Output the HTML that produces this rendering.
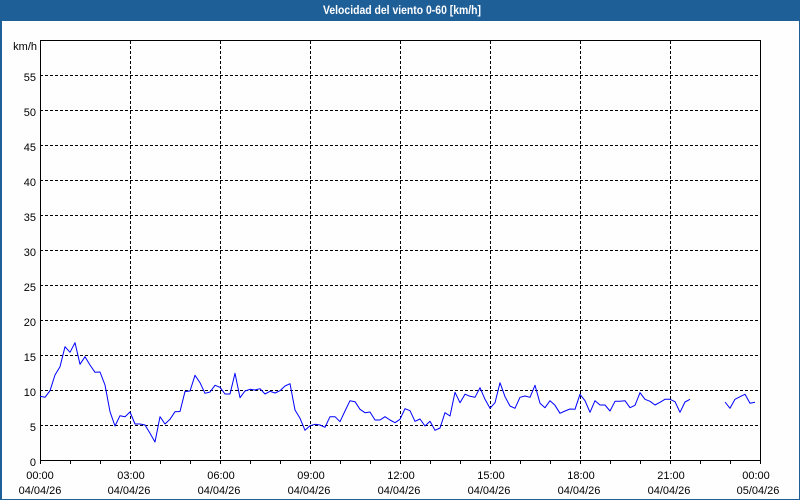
<!DOCTYPE html>
<html>
<head>
<meta charset="utf-8">
<style>
html,body{margin:0;padding:0;background:#fdfefd;}
svg{display:block;}
text{font-family:"Liberation Sans","DejaVu Sans",sans-serif;}
</style>
</head>
<body>
<svg width="800" height="500" viewBox="0 0 800 500" xmlns="http://www.w3.org/2000/svg">
<rect x="0" y="0" width="800" height="500" fill="#fdfefd"/>
<!-- title bar -->
<rect x="0" y="0" width="800" height="21" fill="#1f5f98"/>
<text x="402" y="14" fill="#ffffff" font-size="12" font-weight="bold" text-anchor="middle" textLength="158" lengthAdjust="spacingAndGlyphs">Velocidad del viento 0-60 [km/h]</text>
<!-- frame borders -->
<rect x="0" y="21" width="2" height="479" fill="#1f5f98"/>
<rect x="799" y="21" width="1" height="479" fill="#1f5f98"/>
<rect x="0" y="499" width="800" height="1" fill="#1f5f98"/>

<!-- horizontal grid -->
<g stroke="#000" stroke-width="1" stroke-dasharray="3 2" shape-rendering="crispEdges" fill="none">
<line x1="40" y1="75.5" x2="760" y2="75.5"/>
<line x1="40" y1="110.5" x2="760" y2="110.5"/>
<line x1="40" y1="145.5" x2="760" y2="145.5"/>
<line x1="40" y1="180.5" x2="760" y2="180.5"/>
<line x1="40" y1="215.5" x2="760" y2="215.5"/>
<line x1="40" y1="250.5" x2="760" y2="250.5"/>
<line x1="40" y1="285.5" x2="760" y2="285.5"/>
<line x1="40" y1="320.5" x2="760" y2="320.5"/>
<line x1="40" y1="355.5" x2="760" y2="355.5"/>
<line x1="40" y1="390.5" x2="760" y2="390.5"/>
<line x1="40" y1="425.5" x2="760" y2="425.5"/>
<!-- vertical grid -->
<line x1="130.5" y1="41" x2="130.5" y2="464"/>
<line x1="220.5" y1="41" x2="220.5" y2="464"/>
<line x1="310.5" y1="41" x2="310.5" y2="464"/>
<line x1="400.5" y1="41" x2="400.5" y2="464"/>
<line x1="490.5" y1="41" x2="490.5" y2="464"/>
<line x1="580.5" y1="41" x2="580.5" y2="464"/>
<line x1="670.5" y1="41" x2="670.5" y2="464"/>
</g>

<!-- minor ticks -->
<g stroke="#000" stroke-width="1" shape-rendering="crispEdges">
<line x1="70.5" y1="460" x2="70.5" y2="464"/>
<line x1="100.5" y1="460" x2="100.5" y2="464"/>
<line x1="160.5" y1="460" x2="160.5" y2="464"/>
<line x1="190.5" y1="460" x2="190.5" y2="464"/>
<line x1="250.5" y1="460" x2="250.5" y2="464"/>
<line x1="280.5" y1="460" x2="280.5" y2="464"/>
<line x1="340.5" y1="460" x2="340.5" y2="464"/>
<line x1="370.5" y1="460" x2="370.5" y2="464"/>
<line x1="430.5" y1="460" x2="430.5" y2="464"/>
<line x1="460.5" y1="460" x2="460.5" y2="464"/>
<line x1="520.5" y1="460" x2="520.5" y2="464"/>
<line x1="550.5" y1="460" x2="550.5" y2="464"/>
<line x1="610.5" y1="460" x2="610.5" y2="464"/>
<line x1="640.5" y1="460" x2="640.5" y2="464"/>
<line x1="700.5" y1="460" x2="700.5" y2="464"/>
<line x1="730.5" y1="460" x2="730.5" y2="464"/>
<line x1="760.5" y1="460" x2="760.5" y2="464"/>
<line x1="40.5" y1="460" x2="40.5" y2="464"/>
</g>

<!-- plot frame -->
<rect x="40.5" y="40.5" width="720" height="420" fill="none" stroke="#000" stroke-width="1" shape-rendering="crispEdges"/>

<!-- y labels -->
<g font-size="11" fill="#000" text-anchor="end">
<text x="37" y="50">km/h</text>
<text x="36" y="81">55</text>
<text x="36" y="116">50</text>
<text x="36" y="151">45</text>
<text x="36" y="186">40</text>
<text x="36" y="221">35</text>
<text x="36" y="256">30</text>
<text x="36" y="291">25</text>
<text x="36" y="326">20</text>
<text x="36" y="361">15</text>
<text x="36" y="396">10</text>
<text x="36" y="431">5</text>
<text x="36" y="466">0</text>
</g>

<!-- x labels -->
<g font-size="11" fill="#000" text-anchor="middle">
<text x="40" y="479">00:00</text><text x="40" y="494">04/04/26</text>
<text x="131" y="479">03:00</text><text x="129" y="494">04/04/26</text>
<text x="221" y="479">06:00</text><text x="219" y="494">04/04/26</text>
<text x="311" y="479">09:00</text><text x="309" y="494">04/04/26</text>
<text x="401" y="479">12:00</text><text x="399" y="494">04/04/26</text>
<text x="491" y="479">15:00</text><text x="489" y="494">04/04/26</text>
<text x="581" y="479">18:00</text><text x="579" y="494">04/04/26</text>
<text x="671" y="479">21:00</text><text x="669" y="494">04/04/26</text>
<text x="756" y="479">00:00</text><text x="758" y="494">05/04/26</text>
</g>

<!-- data -->
<g fill="none" stroke="#0000ff" stroke-width="1" stroke-linejoin="round">
<polyline points="40,396.3 45,397.3 50,390.7 55,375 60,366.7 65,346.7 70,352.3 75,342.7 80,364.3 85,356.7 90,365 95,372.3 100,372 105,385 110,411.7 115,426 120,415.7 125,416.7 130,412 135,424 140,424 145,425 150,433.3 155,442 160,416.7 165,424 170,419.3 175,411.7 180,411.5 185,391.5 190,391 195,375.3 200,382.7 205,393.3 210,392 215,385.3 220,387.3 225,394 230,394 235,373.3 240,397.7 245,391 250,389.3 255,390 260,388.7 265,394 270,391.3 275,393 280,390.7 285,386 290,383.7 295,410 300,418.3 305,430.3 310,425.7 315,424.3 320,425 325,427.3 330,416.7 335,416.7 340,421.7 345,411 350,400.7 355,401.7 360,409.3 365,412.7 370,412 375,420 380,420 385,416.7 390,420 395,422.7 400,419.3 405,408.7 410,410.7 415,421.3 420,419 425,426 430,421.3 435,430.3 440,428 445,412.7 450,416 455,392.3 460,402.7 465,394.2 470,396.3 475,397.3 480,387.7 485,399.3 490,408.3 495,402.7 500,382.7 505,396.7 510,406 515,408.3 520,397.3 525,396 530,397.3 535,385.3 540,403.3 545,407.7 550,400.7 555,405.3 560,413.3 565,411 570,409 575,409.3 580,394.3 585,400.7 590,412.3 595,400.7 600,405 605,405 610,411 615,401.3 620,401.3 625,400.7 630,407.7 635,405.3 640,392.7 645,399.3 650,401.3 655,405 660,402.3 665,399.3 670,399.3 675,401.7 680,412.3 685,402 690,399.3"/>
<polyline points="725,402 730,408.3 735,399.3 740,396.7 745,394.3 750,403.3 755,402.3"/>
</g>
</svg>
</body>
</html>
